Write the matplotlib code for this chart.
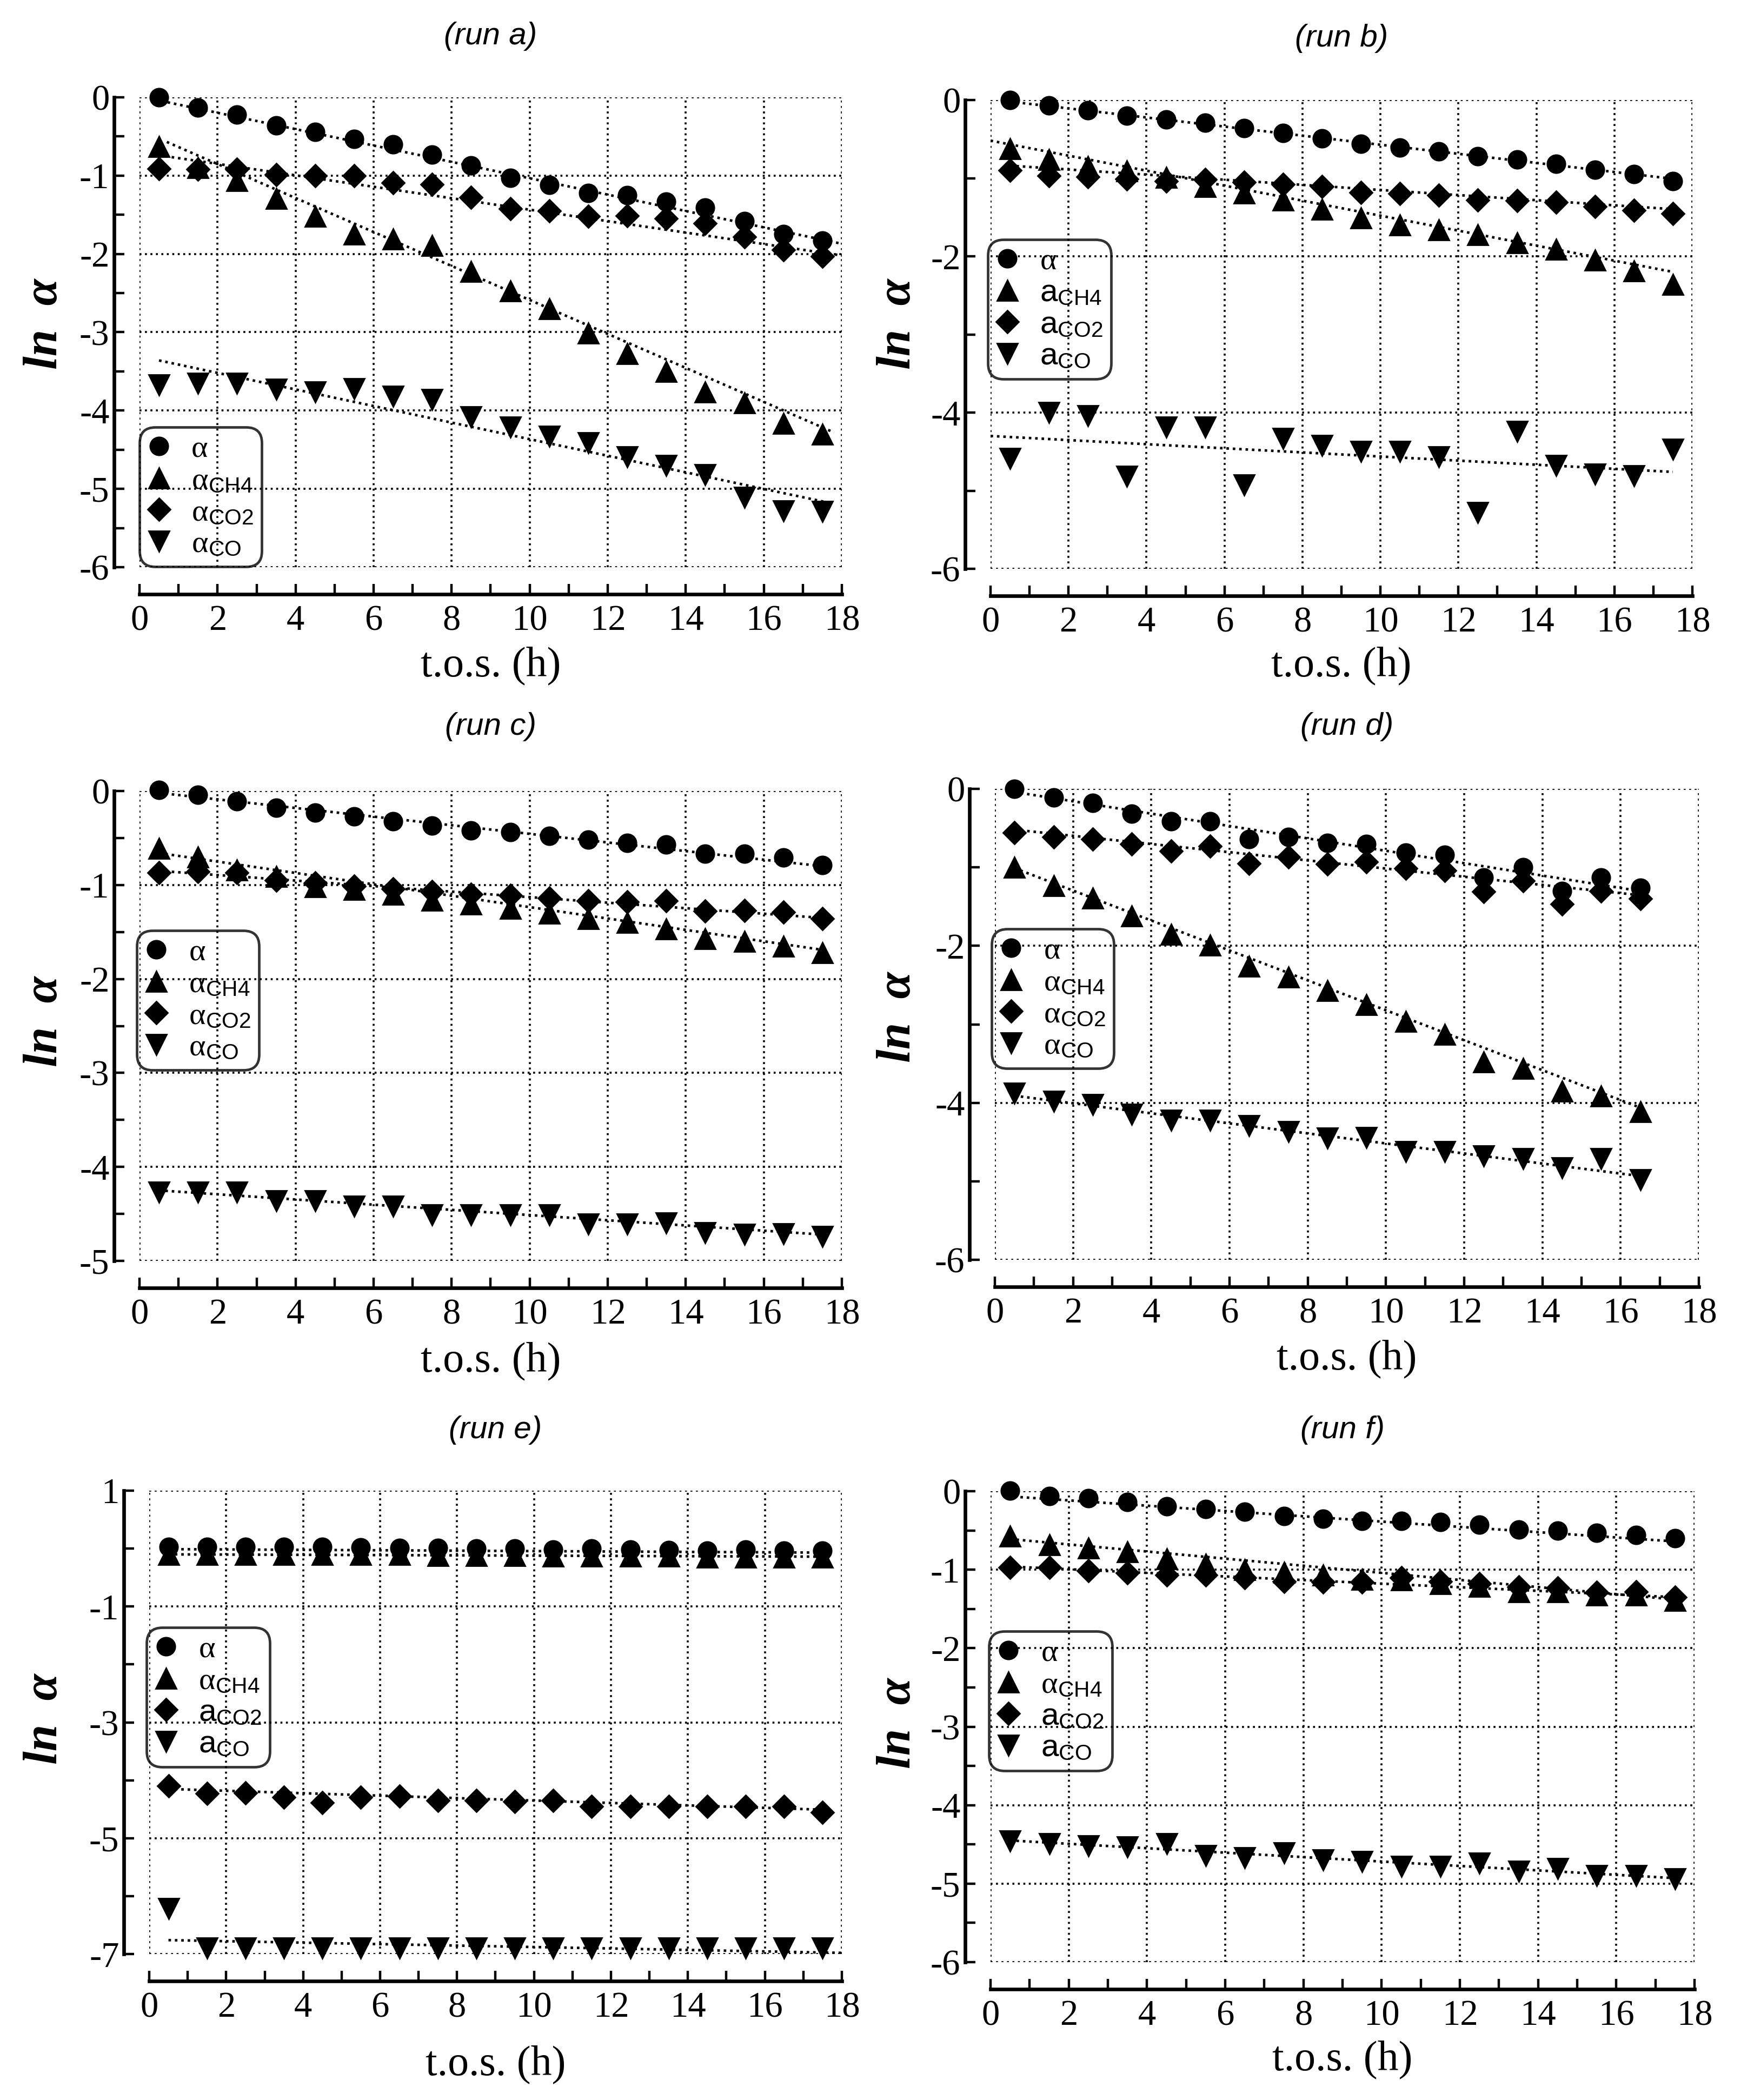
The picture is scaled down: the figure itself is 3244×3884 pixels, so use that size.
import matplotlib
matplotlib.use('Agg')
import matplotlib.pyplot as plt

plt.rcParams['font.family'] = ['Liberation Serif', 'DejaVu Serif']
plt.rcParams['mathtext.fontset'] = 'custom'
plt.rcParams['mathtext.rm'] = 'Liberation Serif'
plt.rcParams['mathtext.sf'] = 'Liberation Sans'
plt.rcParams['mathtext.it'] = 'Liberation Serif:italic'

# time on stream (h)
tos = [0.5, 1.5, 2.5, 3.5, 4.5, 5.5, 6.5, 7.5, 8.5, 9.5, 10.5, 11.5, 12.5, 13.5, 14.5, 15.5, 16.5, 17.5]

# run a
a_alpha = [0.0, -0.13, -0.22, -0.36, -0.44, -0.53, -0.60, -0.73, -0.87, -1.03, -1.12, -1.22, -1.25, -1.33, -1.41, -1.58, -1.75, -1.83]
a_ch4 = [-0.63, -0.90, -1.06, -1.29, -1.52, -1.75, -1.81, -1.89, -2.22, -2.47, -2.70, -3.01, -3.27, -3.50, -3.76, -3.90, -4.16, -4.30]
a_co2 = [-0.91, -0.92, -0.92, -0.99, -1.00, -1.00, -1.09, -1.11, -1.28, -1.42, -1.45, -1.52, -1.51, -1.55, -1.61, -1.78, -1.95, -2.03]
a_co = [-3.67, -3.65, -3.65, -3.73, -3.76, -3.72, -3.82, -3.86, -4.08, -4.21, -4.33, -4.41, -4.59, -4.70, -4.82, -5.11, -5.28, -5.29]
a_fits = [(0.4, -0.03, 18.0, -1.87), (0.7, -0.57, 17.8, -4.28), (0.5, -0.74, 18.0, -2.02), (0.5, -3.36, 17.6, -5.17)]

# run b
b_alpha = [0.0, -0.07, -0.13, -0.20, -0.25, -0.29, -0.36, -0.42, -0.49, -0.56, -0.61, -0.66, -0.72, -0.76, -0.82, -0.89, -0.95, -1.04]
b_ch4 = [-0.62, -0.76, -0.85, -0.91, -0.99, -1.11, -1.19, -1.28, -1.40, -1.51, -1.60, -1.66, -1.72, -1.83, -1.91, -2.05, -2.19, -2.36]
b_co2 = [-0.90, -0.97, -0.98, -1.01, -1.04, -1.02, -1.05, -1.08, -1.11, -1.18, -1.20, -1.22, -1.28, -1.29, -1.31, -1.36, -1.41, -1.45]
b_co = [-4.59, -4.00, -4.04, -4.82, -4.19, -4.19, -4.93, -4.33, -4.42, -4.50, -4.50, -4.57, -5.28, -4.24, -4.68, -4.79, -4.81, -4.47]
b_fits = [(0.5, -0.02, 17.7, -1.02), (0.0, -0.52, 17.5, -2.20), (0.5, -0.84, 17.6, -1.40), (0.0, -4.30, 17.5, -4.76)]

# run c
c_alpha = [0.01, -0.04, -0.11, -0.18, -0.23, -0.27, -0.32, -0.37, -0.42, -0.44, -0.48, -0.52, -0.55, -0.57, -0.67, -0.67, -0.71, -0.79]
c_ch4 = [-0.61, -0.70, -0.84, -0.91, -1.02, -1.05, -1.10, -1.16, -1.20, -1.25, -1.30, -1.36, -1.40, -1.47, -1.57, -1.60, -1.65, -1.72]
c_co2 = [-0.87, -0.86, -0.87, -0.95, -0.98, -1.01, -1.04, -1.07, -1.10, -1.11, -1.14, -1.17, -1.18, -1.17, -1.28, -1.27, -1.29, -1.36]
c_co = [-4.27, -4.27, -4.27, -4.36, -4.36, -4.42, -4.42, -4.51, -4.51, -4.51, -4.51, -4.61, -4.61, -4.60, -4.70, -4.72, -4.71, -4.74]
c_fits = [(0.5, -0.02, 17.5, -0.80), (0.5, -0.66, 17.5, -1.69), (0.5, -0.85, 17.5, -1.35), (0.5, -4.25, 17.5, -4.72)]

# run d (one point less)
d_alpha = [0.0, -0.11, -0.18, -0.32, -0.41, -0.41, -0.64, -0.61, -0.69, -0.70, -0.81, -0.84, -1.13, -1.00, -1.30, -1.13, -1.26]
d_ch4 = [-1.00, -1.23, -1.39, -1.62, -1.85, -1.99, -2.26, -2.40, -2.57, -2.75, -2.96, -3.13, -3.48, -3.56, -3.85, -3.91, -4.11]
d_co2 = [-0.56, -0.61, -0.64, -0.70, -0.79, -0.73, -0.95, -0.87, -0.96, -0.93, -1.01, -1.04, -1.31, -1.17, -1.47, -1.30, -1.40]
d_co = [-3.88, -3.98, -4.02, -4.15, -4.22, -4.22, -4.29, -4.37, -4.45, -4.44, -4.62, -4.62, -4.68, -4.71, -4.83, -4.71, -4.98]
d_fits = [(0.5, -0.04, 16.6, -1.31), (0.5, -1.01, 16.6, -4.08), (0.5, -0.52, 16.6, -1.36), (0.5, -3.91, 16.6, -4.94)]

# run e
e_alpha = [0.03, 0.03, 0.03, 0.03, 0.03, 0.02, 0.01, 0.01, 0.0, 0.0, -0.02, 0.0, -0.02, -0.03, -0.04, -0.02, -0.04, -0.04]
e_ch4 = [-0.10, -0.10, -0.10, -0.10, -0.10, -0.10, -0.10, -0.12, -0.12, -0.12, -0.13, -0.13, -0.13, -0.13, -0.15, -0.15, -0.15, -0.15]
e_co2 = [-4.10, -4.23, -4.22, -4.29, -4.39, -4.29, -4.27, -4.35, -4.35, -4.37, -4.35, -4.45, -4.45, -4.45, -4.45, -4.45, -4.45, -4.55]
e_co = [-6.22, -6.90, -6.90, -6.90, -6.90, -6.90, -6.90, -6.90, -6.90, -6.90, -6.90, -6.90, -6.90, -6.90, -6.90, -6.90, -6.90, -6.90]
e_fits = [(0.5, -0.01, 17.6, -0.07), (0.5, -0.10, 17.6, -0.14), (0.5, -4.15, 17.6, -4.51), (0.5, -6.76, 18.0, -6.98)]

# run f
f_alpha = [0.01, -0.06, -0.09, -0.14, -0.19, -0.23, -0.26, -0.32, -0.35, -0.38, -0.38, -0.39, -0.43, -0.49, -0.50, -0.53, -0.56, -0.60]
f_ch4 = [-0.57, -0.68, -0.72, -0.77, -0.86, -0.93, -1.00, -1.03, -1.07, -1.12, -1.13, -1.18, -1.21, -1.28, -1.28, -1.32, -1.32, -1.39]
f_co2 = [-0.97, -0.97, -1.01, -1.04, -1.07, -1.07, -1.10, -1.15, -1.16, -1.16, -1.10, -1.15, -1.18, -1.22, -1.23, -1.29, -1.28, -1.35]
f_co = [-4.46, -4.49, -4.52, -4.53, -4.49, -4.64, -4.67, -4.61, -4.70, -4.72, -4.78, -4.78, -4.74, -4.84, -4.81, -4.90, -4.90, -4.94]
f_fits = [(0.6, -0.07, 17.5, -0.64), (0.5, -0.61, 17.5, -1.38), (0.5, -0.96, 17.5, -1.35), (0.5, -4.45, 17.5, -4.93)]

# legend labels
lab_a = 'α'
lab_ch4_g = 'α$_{\\mathsf{CH4}}$'
lab_co2_g = 'α$_{\\mathsf{CO2}}$'
lab_co_g = 'α$_{\\mathsf{CO}}$'
lab_ch4_l = '$\\mathsf{a}_{\\mathsf{CH4}}$'
lab_co2_l = '$\\mathsf{a}_{\\mathsf{CO2}}$'
lab_co_l = '$\\mathsf{a}_{\\mathsf{CO}}$'

W, H, DPI = 3244, 3884, 200
fig = plt.figure(figsize=(W / DPI, H / DPI), dpi=DPI)

panels = [
    dict(name='(run a)', data=[a_alpha, a_ch4, a_co2, a_co], fits=a_fits,
         labels=[lab_a, lab_ch4_g, lab_co2_g, lab_co_g],
         rect=(258, 180, 1557, 1049), ylim=(-6, 0),
         ymaj=[0, -1, -2, -3, -4, -5, -6], ymin=[-0.5, -1.5, -2.5, -3.5, -4.5, -5.5],
         title_y=67, xlab_y=1231, ylab=(84, 599), leg=(258, 790)),
    dict(name='(run b)', data=[b_alpha, b_ch4, b_co2, b_co], fits=b_fits,
         labels=[lab_a, lab_ch4_l, lab_co2_l, lab_co_l],
         rect=(1832, 185, 3130, 1052), ylim=(-6, 0),
         ymaj=[0, -2, -4, -6], ymin=[-1, -3, -5],
         title_y=71, xlab_y=1231, ylab=(1661, 599), leg=(1827, 443)),
    dict(name='(run c)', data=[c_alpha, c_ch4, c_co2, c_co], fits=c_fits,
         labels=[lab_a, lab_ch4_g, lab_co2_g, lab_co_g],
         rect=(258, 1463, 1557, 2332), ylim=(-5, 0),
         ymaj=[0, -1, -2, -3, -4, -5], ymin=[-0.5, -1.5, -2.5, -3.5, -4.5],
         title_y=1344, xlab_y=2517, ylab=(84, 1889), leg=(253, 1721)),
    dict(name='(run d)', data=[d_alpha, d_ch4, d_co2, d_co], fits=d_fits,
         labels=[lab_a, lab_ch4_g, lab_co2_g, lab_co_g],
         rect=(1840, 1459, 3142, 2330), ylim=(-6, 0),
         ymaj=[0, -2, -4, -6], ymin=[-1, -3, -5],
         title_y=1344, xlab_y=2513, ylab=(1661, 1881), leg=(1834, 1718)),
    dict(name='(run e)', data=[e_alpha, e_ch4, e_co2, e_co], fits=e_fits,
         labels=[lab_a, lab_ch4_g, lab_co2_l, lab_co_l],
         rect=(276, 2757, 1557, 3614), ylim=(-7, 1),
         ymaj=[1, -1, -3, -5, -7], ymin=[0, -2, -4, -6],
         title_y=2645, xlab_y=3818, ylab=(84, 3179), leg=(271, 3010)),
    dict(name='(run f)', data=[f_alpha, f_ch4, f_co2, f_co], fits=f_fits,
         labels=[lab_a, lab_ch4_g, lab_co2_l, lab_co_l],
         rect=(1832, 2758, 3134, 3629), ylim=(-6, 0),
         ymaj=[0, -1, -2, -3, -4, -5, -6], ymin=[-0.5, -1.5, -2.5, -3.5, -4.5, -5.5],
         title_y=2645, xlab_y=3809, ylab=(1661, 3187), leg=(1829, 3017)),
]

markers = ['o', '^', 'D', 'v']
msizes = [12, 14, 10.5, 14]
dots = (0, (1, 1.5))

for p in panels:
    x0, y0, x1, y1 = p['rect']
    wpx, hpx = x1 - x0, y1 - y0
    ax = fig.add_axes([x0 / W, 1 - y1 / H, wpx / W, hpx / H])

    handles = []
    for vals, fit, m, ms, lab in zip(p['data'], p['fits'], markers, msizes, p['labels']):
        ax.plot([fit[0], fit[2]], [fit[1], fit[3]], color='black', lw=1.7, ls=dots, zorder=2)
        h, = ax.plot(tos[:len(vals)], vals, ls='none', marker=m, ms=ms, color='black',
                     zorder=3, clip_on=False, label=lab)
        handles.append(h)

    ax.set_xlim(0, 18)
    ax.set_ylim(*p['ylim'])
    ax.set_xticks([0, 2, 4, 6, 8, 10, 12, 14, 16, 18])
    ax.set_xticks([1, 3, 5, 7, 9, 11, 13, 15, 17], minor=True)
    ax.set_yticks(p['ymaj'])
    ax.set_yticks(p['ymin'], minor=True)
    ax.set_yticklabels([str(v) for v in p['ymaj']])
    ax.grid(True, which='major', color='black', lw=1.3, ls=(0, (1, 1.8)))

    for s in ['top', 'right']:
        ax.spines[s].set_visible(False)
    ax.spines['left'].set_position(('outward', 17))
    ax.spines['bottom'].set_position(('outward', 18))
    ax.spines['left'].set_linewidth(2.4)
    ax.spines['bottom'].set_linewidth(2.4)
    ax.tick_params(which='both', direction='in', width=1.6, length=7, labelsize=24, pad=3)
    ax.tick_params(axis='x', which='both', pad=7)

    ax.text(0.5, 1 + (y0 - p['title_y']) / hpx, p['name'], transform=ax.transAxes,
            ha='center', va='center', family='Liberation Sans', style='italic', fontsize=21)
    ax.text(0.5, -(p['xlab_y'] - y1) / hpx, 't.o.s. (h)', transform=ax.transAxes,
            ha='center', va='center', fontsize=28)
    lx, ly = p['ylab']
    ax.text((lx - x0) / wpx, (y1 - ly) / hpx, 'ln  α', transform=ax.transAxes, rotation=90,
            ha='center', va='center', fontsize=32, style='italic', weight='bold')

    lgx, lgy = p['leg']
    leg = ax.legend(handles=handles, loc='upper left', bbox_to_anchor=(lgx / W, 1 - lgy / H),
                    bbox_transform=fig.transFigure, borderaxespad=0, fontsize=21, numpoints=1,
                    handlelength=0.75, handletextpad=0.65, borderpad=0.25, labelspacing=0.1,
                    fancybox=True, framealpha=None, facecolor='none', edgecolor='black')
    leg.get_frame().set_linewidth(1.7)
    leg.get_frame().set_boxstyle('round', pad=0, rounding_size=0.5)

fig.savefig('out.png', dpi=DPI)
